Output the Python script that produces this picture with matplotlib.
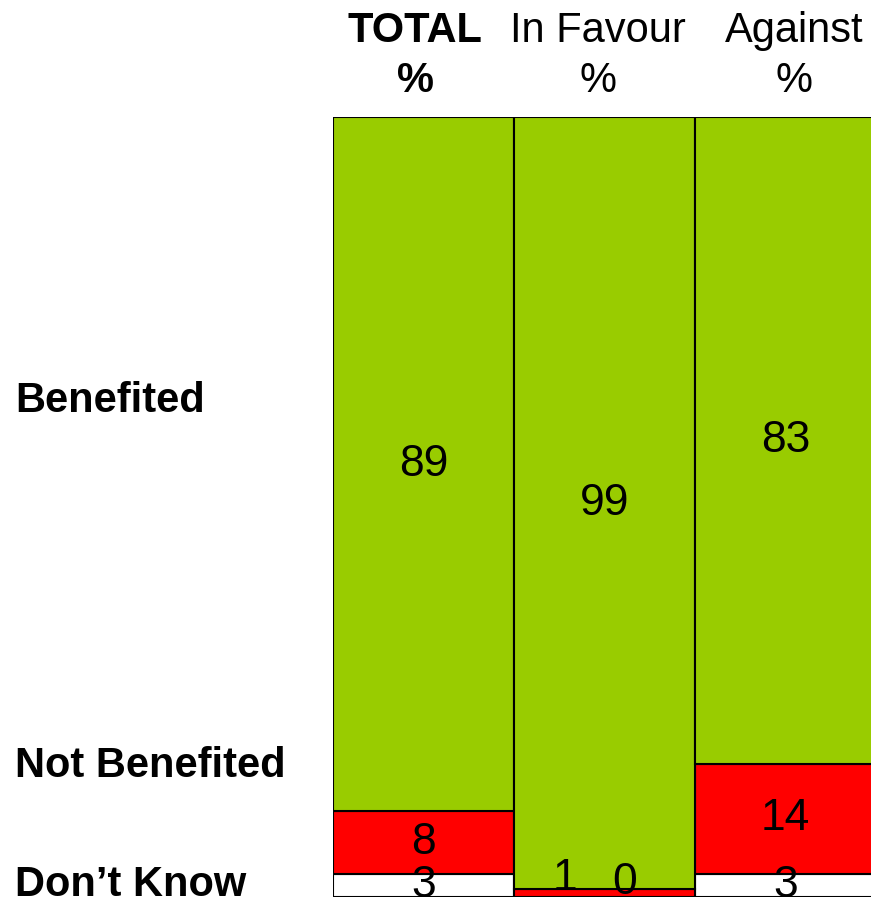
import matplotlib.pyplot as plt
import numpy as np

plt.rcParams['font.family'] = ['Liberation Sans', 'DejaVu Sans']

# data
groups = ["TOTAL", "In Favour", "Against"]
rows = ["Benefited", "Not Benefited", "Don\u2019t Know"]
benefited = [89, 99, 83]
not_benefited = [8, 1, 14]
dont_know = [3, 0, 3]

colors = ["#99cc00", "#ff0000", "#ffffff"]

fig = plt.figure(figsize=(8.71, 8.98), dpi=100)
ax = fig.add_axes([333 / 871, 1 - 897 / 898, 538 / 871, 780 / 898])

x = np.arange(len(groups)) + 0.5
series = [dont_know, not_benefited, benefited]
series_colors = [colors[2], colors[1], colors[0]]

bottom = np.zeros(len(groups))
for vals, col in zip(series, series_colors):
    vals = np.array(vals, dtype=float)
    ax.bar(x, vals, width=1.0, bottom=bottom, color=col,
           edgecolor="black", linewidth=1.5)
    for i, v in enumerate(vals):
        cy = bottom[i] + v / 2
        cx = x[i]
        # tiny segments: shift label so both stay readable
        if v < 2 and col != "#ffffff":
            cx = x[i] - 0.22
            cy = 2.4
        elif v == 0:
            cx = x[i] + 0.11
            cy = 1.9
        ax.text(cx, cy, "%d" % v, ha="center", va="center", fontsize=32,
                color="black", clip_on=False)
    bottom += vals

ax.set_xlim(0, 538 / 181)
ax.set_ylim(0, 100)
ax.axis("off")

# column headers
head_x = [415, 598, 794]
for i, g in enumerate(groups):
    fw = "bold" if i == 0 else "normal"
    fig.text(head_x[i] / 871, 1 - 42 / 898, g, ha="center", va="baseline",
             fontsize=30, fontweight=fw)
    fig.text(head_x[i] / 871, 1 - 92 / 898, "%", ha="center", va="baseline",
             fontsize=30, fontweight=fw)

# row labels
row_y = [412, 777, 896]
for lab, yy in zip(rows, row_y):
    fig.text(15 / 871, 1 - yy / 898, lab, ha="left", va="baseline",
             fontsize=30, fontweight="bold")

plt.savefig("out.png", dpi=100)
